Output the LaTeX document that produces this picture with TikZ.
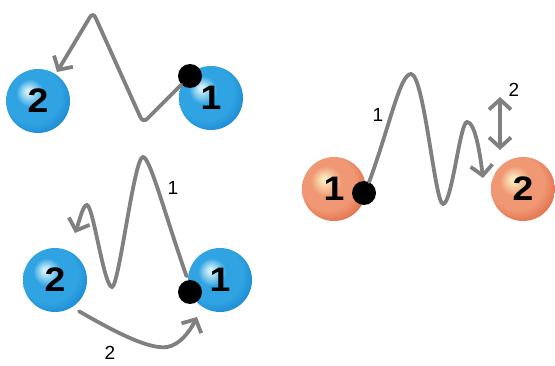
\documentclass[tikz,border=0pt]{standalone}
\usepackage{fontspec}
\setmainfont{Liberation Sans}
\usepackage{graphicx}
\usetikzlibrary{arrows.meta}

\definecolor{ballblue}{RGB}{48,164,226}
\definecolor{balledge}{RGB}{20,126,206}
\definecolor{ballhi}{RGB}{205,238,250}
\definecolor{ballorange}{RGB}{240,152,116}
\definecolor{orangeedge}{RGB}{220,96,60}
\definecolor{orangehi}{RGB}{250,232,188}
\definecolor{wavegray}{RGB}{128,128,128}

\pgfdeclareradialshading{bluesphere}{\pgfpoint{-8bp}{8bp}}{%
  color(0bp)=(ballhi); color(2bp)=(ballhi);
  color(11bp)=(ballblue); color(22bp)=(ballblue); color(34bp)=(balledge); color(50bp)=(balledge)}
\pgfdeclareradialshading{orangesphere}{\pgfpoint{-8bp}{8bp}}{%
  color(0bp)=(orangehi); color(2bp)=(orangehi);
  color(12bp)=(ballorange); color(21bp)=(ballorange); color(34bp)=(orangeedge); color(50bp)=(orangeedge)}

\begin{document}
\begin{tikzpicture}[
  x=1pt, y=1pt,
  ball/.style    = {circle, minimum size=64pt, inner sep=0pt,
                    font=\fontsize{34}{34}\selectfont\bfseries},
  blueball/.style   = {ball, shading=bluesphere},
  orangeball/.style = {ball, shading=orangesphere},
  dot/.style     = {circle, fill=black, minimum size=24pt, inner sep=0pt},
  wave/.style    = {draw=wavegray, line width=3.8pt, line cap=round,
                    -{Straight Barb[length=10pt, width=22pt]}},
  twoway/.style  = {wave, {Straight Barb[length=10pt, width=22pt]}-{Straight Barb[length=10pt, width=22pt]}},
  lbl/.style     = {font=\fontsize{19}{19}\selectfont}
]
  \useasboundingbox (0,0) rectangle (555,365);

  %% Top left: reaction over one barrier
  \node[blueball] (tl2) at (38,264)  {\scalebox{1.1}[1]{2}};
  \node[blueball] (tl1) at (211,267) {\scalebox{1.1}[1]{1}};
  \node[dot]      (dot1) at (190,289) {};
  \coordinate (tipa) at (57,293);

  \draw[wave, rounded corners=6pt] (dot1) -- (143,242) -- (93,353) -- (tipa);

  %% Bottom left: two paths
  \node[blueball] (bl2) at (55,85)  {\scalebox{1.1}[1]{2}};
  \node[blueball] (bl1) at (220,85) {\scalebox{1.1}[1]{1}};
  \node[dot]      (dot2) at (190,73) {};
  \coordinate (tipb) at (75,132);
  \coordinate (tipc) at (197,48);

  \draw[wave, shorten <=4pt] (dot2.100) .. controls (165,150) and (150,208) .. (143,208)
        .. controls (134,208) and (119,78) .. (112,78)
        .. controls (104,78) and (93,160) .. (87,160)
        .. controls (83,160) and (80,146) .. (tipb);
  \node[lbl] (lb1) at (173,177) {1};

  \draw[wave, shorten <=8pt] (bl2.-58) .. controls (110,36) and (148,15) .. (167,18)
        .. controls (180,20) and (190,34) .. (tipc);
  \node[lbl] (lb2) at (110,12) {2};

  %% Right: two barriers
  \node[orangeball] (r1) at (334,176) {\scalebox{1.1}[1]{1}};
  \node[orangeball] (r2) at (523,176) {\scalebox{1.1}[1]{2}};
  \node[dot]        (dot3) at (364,172) {};
  \coordinate (tipd) at (483,187);
  \coordinate (up)   at (500,268);
  \coordinate (down) at (500,215);

  \draw[wave] (dot3.65) .. controls (390,240) and (400,291) .. (411,291)
        .. controls (424,291) and (435,161) .. (443,161)
        .. controls (452,161) and (460,243) .. (467,243)
        .. controls (475,243) and (480,212) .. (tipd);
  \node[lbl] (lr1) at (378,250) {1};

  \draw[twoway] (up) -- (down);
  \node[lbl] (lr2) at (514,275) {2};
\end{tikzpicture}
\end{document}
